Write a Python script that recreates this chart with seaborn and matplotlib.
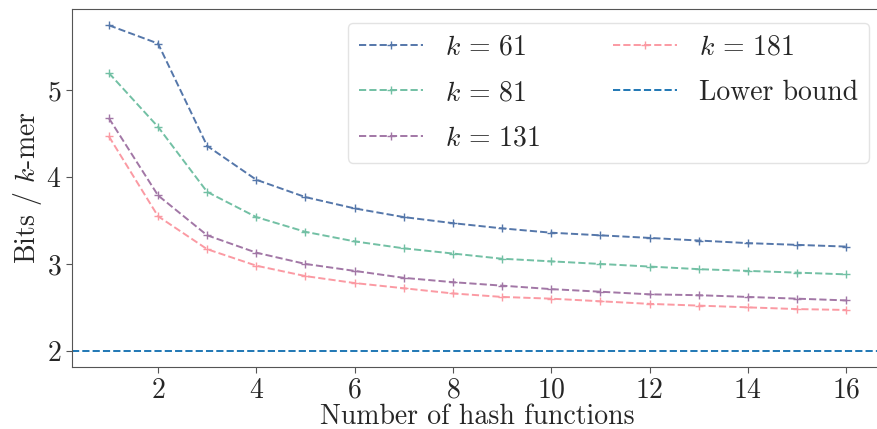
import seaborn as sns, matplotlib.pyplot as plt, pandas as pd, numpy as np

# number of hash functions
hashes = list(range(1, 17))

# bits per k-mer for each k
k61 = [5.75, 5.54, 4.36, 3.97, 3.77, 3.64, 3.54, 3.47, 3.41, 3.36, 3.33, 3.30, 3.27, 3.24, 3.22, 3.20]
k81 = [5.20, 4.58, 3.83, 3.54, 3.37, 3.26, 3.18, 3.12, 3.06, 3.03, 3.00, 2.97, 2.94, 2.92, 2.90, 2.88]
k131 = [4.68, 3.79, 3.33, 3.13, 3.00, 2.92, 2.84, 2.79, 2.75, 2.71, 2.68, 2.65, 2.64, 2.62, 2.60, 2.58]
k181 = [4.47, 3.55, 3.17, 2.98, 2.86, 2.78, 2.72, 2.66, 2.62, 2.60, 2.57, 2.54, 2.52, 2.50, 2.48, 2.47]
lower_bound = 2

series = {r'$k \,=\, 61$': k61, r'$k \,=\, 81$': k81, r'$k \,=\, 131$': k131, r'$k \,=\, 181$': k181}
colors = ['#5577aa', '#72c0a4', '#a277a6', '#fb9aa3']

sns.set_style("ticks")
plt.rcParams['font.family'] = 'serif'
plt.rcParams['font.serif'] = ['cmr10', 'DejaVu Serif']
plt.rcParams['mathtext.fontset'] = 'cm'
plt.rcParams['axes.formatter.use_mathtext'] = True

fig = plt.figure(figsize=(8.77, 4.29), dpi=100)
ax = fig.add_axes([0.0821, 0.1445, 0.9247, 0.8345])

for (label, vals), c in zip(series.items(), colors):
    df = pd.DataFrame({'h': hashes, 'bits': vals})
    sns.lineplot(data=df, x='h', y='bits', ax=ax, color=c, linestyle='--',
                 marker='+', markersize=6, markeredgewidth=1.0, markeredgecolor=c,
                 linewidth=1.4, label=label)

ax.axhline(lower_bound, color='#1f77b4', linestyle='--', linewidth=1.4, label='Lower bound')

ax.set_xticks([2, 4, 6, 8, 10, 12, 14, 16])
ax.set_yticks([2, 3, 4, 5])
ax.tick_params(labelsize=20, length=4, color='#555555')
for s in ax.spines.values():
    s.set_color('#555555')

#sets the graph parameters
ax.set_xlabel('Number of hash functions', fontsize=20, labelpad=0)
ax.set_ylabel(r'Bits / $k$-mer', fontsize=20, labelpad=2)
ax.legend(ncol=2, fontsize=20, loc='upper right',
          handlelength=2.3, columnspacing=2.6, labelspacing=0.7, fancybox=True,
          edgecolor='#dddddd')

fig.savefig('out.png', dpi=100)
